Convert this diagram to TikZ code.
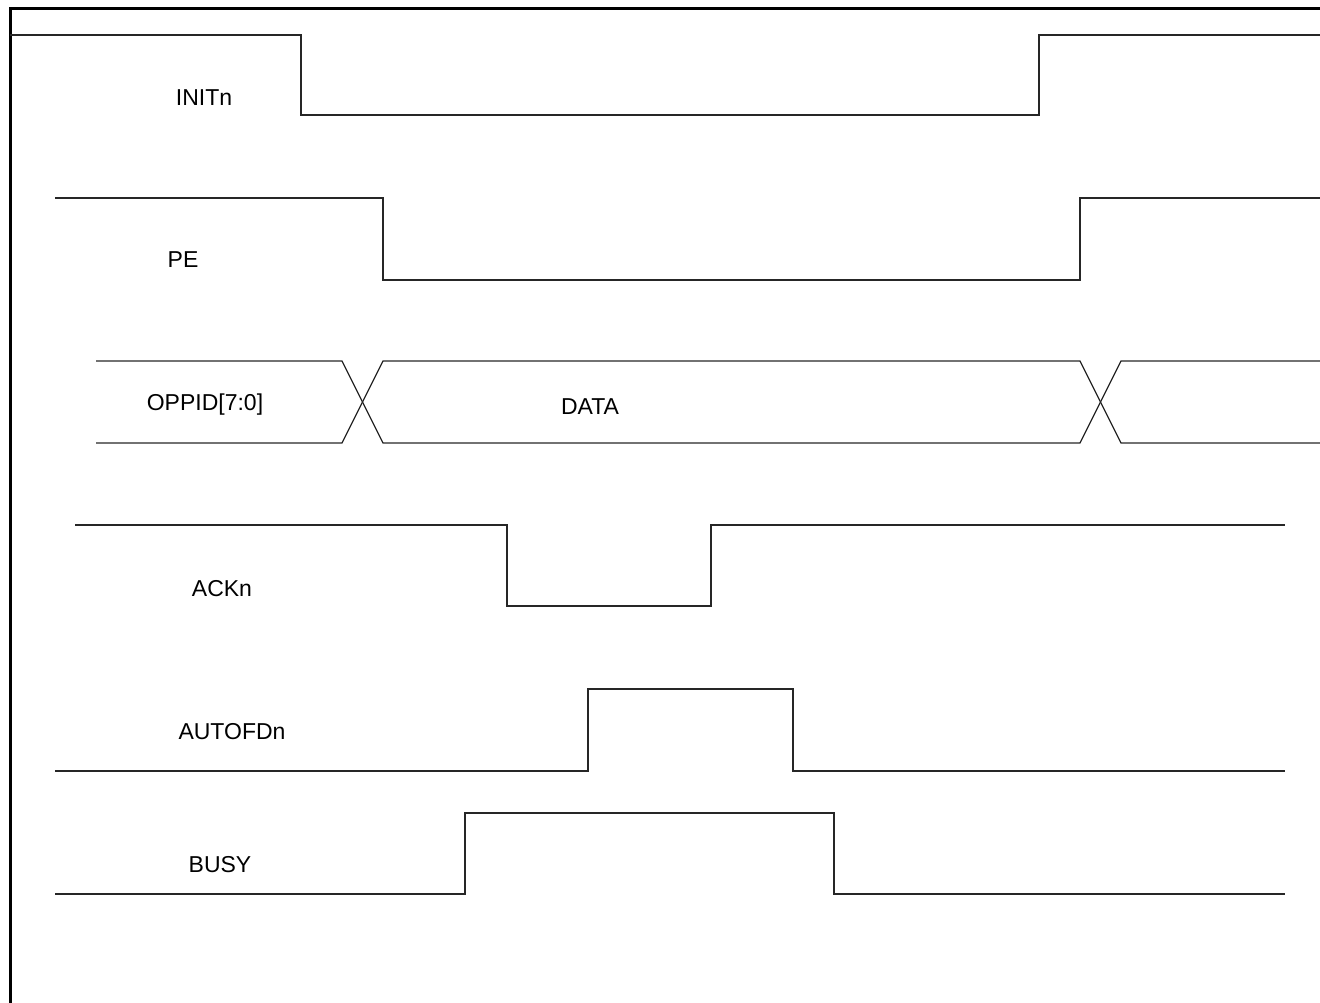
\documentclass[tikz,border=0pt]{standalone}
\usepackage{fontspec}
\setmainfont{Liberation Sans}
\begin{document}
\begin{tikzpicture}[x=1pt,y=-1pt,line width=1.3pt,
  wave/.style={draw=black!85,line join=miter},
  siglabel/.style={anchor=base,inner sep=0pt,font=\fontsize{23}{27}\selectfont}]
  \useasboundingbox (0,0) rectangle (1320,1003);
  % Frame (only top and left edges are visible)
  \draw[line width=3pt] (10,1003) -- (10,9) -- (1320,9);

  % INITn
  \draw[wave] (10,35) -- (301,35) -- (301,115) -- (1039,115) -- (1039,35) -- (1320,35);
  \node[siglabel] (initn) at (204,106) {INITn};

  % PE
  \draw[wave] (55,198) -- (383,198) -- (383,280) -- (1080,280) -- (1080,198) -- (1320,198);
  \node[siglabel] (pe) at (183,267) {PE};

  % OPPID[7:0] bus
  \draw[wave] (96,361) -- (342,361) -- (383,443) -- (1080,443) -- (1121,361) -- (1320,361);
  \draw[wave] (96,443) -- (342,443) -- (383,361) -- (1080,361) -- (1121,443) -- (1320,443);
  \node[siglabel] (oppid) at (205,410) {OPPID[7:0]};
  \node[siglabel] (data) at (590,414) {DATA};

  % ACKn
  \draw[wave] (75,525) -- (507,525) -- (507,606) -- (711,606) -- (711,525) -- (1285,525);
  \node[siglabel] (ackn) at (222,596) {ACKn};

  % AUTOFDn
  \draw[wave] (55,771) -- (588,771) -- (588,689) -- (793,689) -- (793,771) -- (1285,771);
  \node[siglabel] (autofdn) at (232,739) {AUTOFDn};

  % BUSY
  \draw[wave] (55,894) -- (465,894) -- (465,813) -- (834,813) -- (834,894) -- (1285,894);
  \node[siglabel] (busy) at (220,872) {BUSY};
\end{tikzpicture}
\end{document}
